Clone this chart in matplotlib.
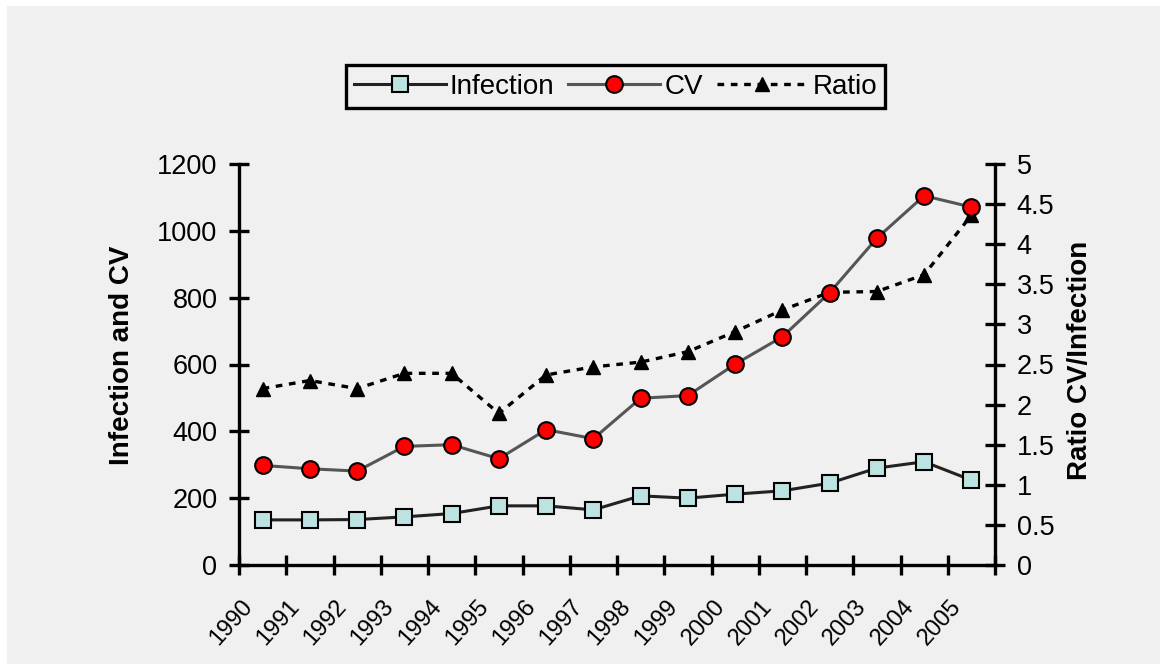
import matplotlib
matplotlib.use("Agg")
import numpy as np
import matplotlib.pyplot as plt
from matplotlib.patches import Rectangle
from matplotlib.ticker import FuncFormatter
from matplotlib.transforms import ScaledTranslation

YEARS = ["1990", "1991", "1992", "1993", "1994", "1995", "1996", "1997",
         "1998", "1999", "2000", "2001", "2002", "2003", "2004", "2005"]
INFECTION = [135, 135, 136, 144, 154, 177, 177, 165, 207, 200, 212, 222, 245, 290, 309, 254]
CV = [298, 288, 281, 355, 360, 318, 405, 378, 499, 507, 601, 683, 815, 978, 1105, 1071]
RATIO = [2.20, 2.30, 2.20, 2.39, 2.39, 1.89, 2.37, 2.47, 2.53, 2.66, 2.91, 3.18, 3.40, 3.41, 3.62, 4.36]

BG = "#f0f0f0"
plt.rcParams["font.family"] = ["Liberation Sans", "DejaVu Sans"]

W, H = 1160, 664
fig = plt.figure(figsize=(W / 100, H / 100), dpi=100, facecolor="white")
fig.add_artist(Rectangle((7 / W, 0), 1, 1 - 6 / H, transform=fig.transFigure,
                         facecolor=BG, edgecolor="none", zorder=-10))

ax = fig.add_axes([239 / W, 1 - 565 / H, (995 - 239) / W, (565 - 164) / H])
ax2 = ax.twinx()
# primary axis on top so the CV circles cover the ratio triangles
ax.set_zorder(ax2.get_zorder() + 1)
ax.patch.set_visible(False)
ax2.patch.set_visible(False)

n = len(YEARS)
x = np.arange(n) + 0.5

l1, = ax.plot(x, INFECTION, color="#222222", lw=2.2, marker="s", ms=11,
              mfc="#bde2e2", mec="black", mew=1.5, label="Infection")
l2, = ax.plot(x, CV, color="#555555", lw=2.2, marker="o", ms=12,
              mfc="#ff0000", mec="black", mew=1.5, label="CV")
l3, = ax2.plot(x, RATIO, color="black", lw=2.4, ls=(0, (2, 2)), marker="^",
               ms=10, mfc="black", mec="black", label="Ratio")

ax.set_xlim(0, n)
ax.set_ylim(0, 1200)
ax2.set_ylim(0, 5)
ax.set_yticks(np.arange(0, 1201, 200))
ax2.set_yticks(np.arange(0, 5.01, 0.5))
ax2.yaxis.set_major_formatter(FuncFormatter(lambda v, p: "%g" % v))

for a in (ax, ax2):
    for s in a.spines.values():
        s.set_visible(False)
ax.spines["bottom"].set_visible(True)
ax.spines["left"].set_visible(True)
ax2.spines["right"].set_visible(True)
for s in ("left", "bottom"):
    ax.spines[s].set_linewidth(2.4)
ax2.spines["right"].set_linewidth(2.4)

ax.set_xticks(x, YEARS)
ax.set_xticks(np.arange(n + 1), minor=True)
ax.tick_params(axis="x", which="major", length=0, pad=27, labelsize=17)
ax.tick_params(axis="x", which="minor", direction="inout", length=15, width=2.4)
ax.tick_params(axis="y", direction="inout", length=15, width=2.4, pad=8, labelsize=19.5)
ax2.tick_params(axis="y", direction="inout", length=15, width=2.4, pad=8, labelsize=19.5)

shift = ScaledTranslation(-14 / 100, 0, fig.dpi_scale_trans)
for lab in ax.get_xticklabels():
    lab.set_rotation(48)
    lab.set_ha("right")
    lab.set_va("center")
    lab.set_rotation_mode("anchor")
    lab.set_transform(lab.get_transform() + shift)

fig.text(122 / W, 1 - 355 / H, "Infection and CV", rotation=90, ha="center",
         va="center", fontsize=20, fontweight="bold")
fig.text(1080 / W, 1 - 360 / H, "Ratio CV/Infection", rotation=90, ha="center",
         va="center", fontsize=20, fontweight="bold")

leg = fig.legend([l1, l2, l3], ["Infection", "CV", "Ratio"], loc="center",
                 bbox_to_anchor=(615.5 / W, 1 - 86.5 / H), ncol=3, fontsize=20,
                 frameon=True, fancybox=False, edgecolor="black", facecolor=BG,
                 framealpha=1, handlelength=3.3, handletextpad=0.15,
                 columnspacing=0.5, borderpad=0.3, borderaxespad=0)
leg.get_frame().set_linewidth(2.4)

fig.savefig("out.png", dpi=100, facecolor=fig.get_facecolor())
